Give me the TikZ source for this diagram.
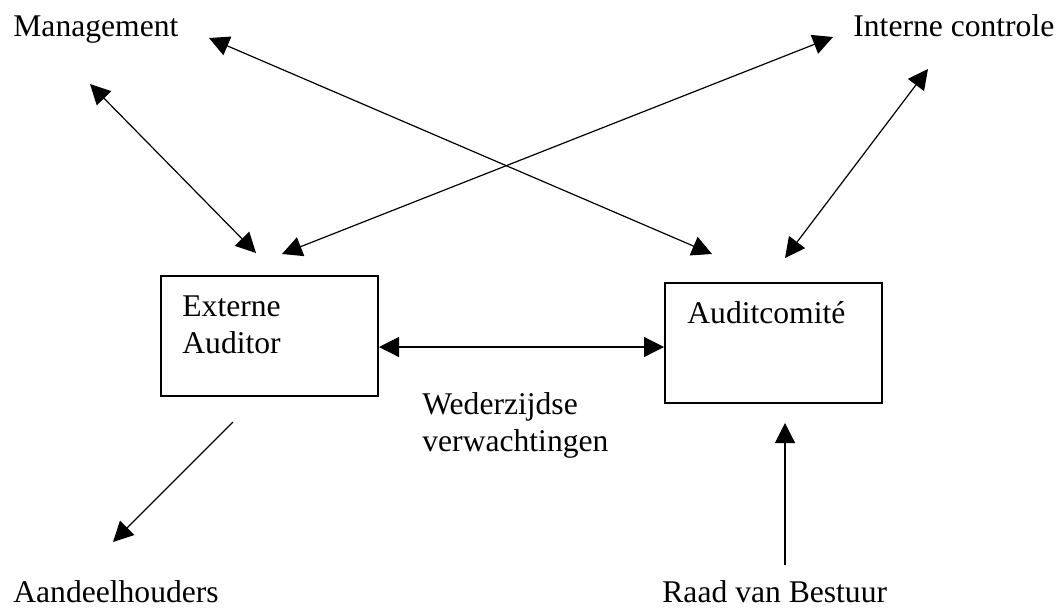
\documentclass[tikz,border=0pt]{standalone}
\usepackage{fontspec}
\setmainfont{Liberation Serif}
\usetikzlibrary{arrows.meta}
\tikzset{
  lbl/.style={inner sep=0pt, anchor=base west, align=left, font=\fontsize{15.8}{18}\selectfont},
  boxnode/.style={draw, line width=1pt, minimum width=108.5pt, minimum height=60pt, inner sep=0pt},
  link/.style={line width=0.6pt, {Triangle[length=10pt,width=10pt]}-{Triangle[length=10pt,width=10pt]}},
  onearrow/.style={line width=0.6pt, -{Triangle[length=10pt,width=10pt]}}
}
\begin{document}
\begin{tikzpicture}[x=0.5pt,y=-0.5pt]
\useasboundingbox (0,0) rectangle (1058,607);
% boxes
\node[boxnode] (ea) at (269.5,336) {};
\node[boxnode] (ac) at (773.5,343) {};
% texts (base anchor = baseline of last line)
\node[lbl] (mgmt) at (13,36) {Management};
\node[lbl] (ic) at (853,36) {Interne controle};
\node[lbl, font=\fontsize{15.8}{18.5}\selectfont] (eatxt) at (182,353) {Externe\\Auditor};
\node[lbl] (actxt) at (687,323) {Auditcomité};
\node[lbl, font=\fontsize{15.8}{18.5}\selectfont] (wv) at (422,451) {Wederzijdse\\verwachtingen};
\node[lbl] (ah) at (13,602) {Aandeelhouders};
\node[lbl] (rvb) at (662,602) {Raad van Bestuur};
% arrow endpoints
\coordinate (m1) at (90,84);   \coordinate (e1) at (256,253);
\coordinate (m2) at (209,38);  \coordinate (a2) at (712,254);
\coordinate (i3) at (833,37);  \coordinate (e3) at (282,254);
\coordinate (i4) at (928,69);  \coordinate (a4) at (785,258);
\coordinate (hy) at (0,347);
\coordinate (ahs) at (233,422); \coordinate (aht) at (113,542);
\coordinate (rvs) at (785,565); \coordinate (rvt) at (785,423);
% connectors
\draw[link] (m1) -- (e1);
\draw[link] (m2) -- (a2);
\draw[link] (i3) -- (e3);
\draw[link] (i4) -- (a4);
\draw[link] (ea.east |- hy) -- (ac.west |- hy);
\draw[onearrow] (ahs) -- (aht);
\draw[onearrow] (rvs) -- (rvt);
\end{tikzpicture}
\end{document}
